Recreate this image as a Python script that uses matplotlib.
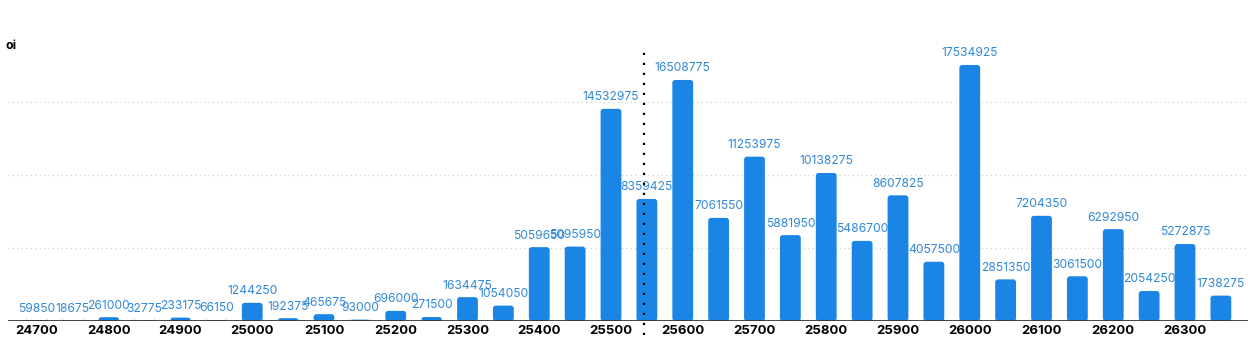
import matplotlib.pyplot as plt
from matplotlib.patches import FancyBboxPatch

plt.rcParams['font.family'] = ['Inter', 'DejaVu Sans']

# strikes en open interest
strikes = list(range(24700, 26400, 50))
oi = [59850, 18675, 261000, 32775, 233175, 66150, 1244250, 192375, 465675, 93000,
      696000, 271500, 1634475, 1054050, 5059650, 5095950, 14532975, 8359425,
      16508775, 7061550, 11253975, 5881950, 10138275, 5486700, 8607825, 4057500,
      17534925, 2851350, 7204350, 3061500, 6292950, 2054250, 5272875, 1738275]
tick_strikes = list(range(24700, 26400, 100))
spot = 25546

bar_kleur = '#1b85e6'
tekst_kleur = '#3389d6'

fig = plt.figure(figsize=(12.48, 3.42), dpi=100)
ax = fig.add_axes([8 / 1248, 21 / 342, 1240 / 1248, 292 / 342])
ax.set_xlim(24659.6, 26387.8)
ax.set_ylim(0, 20000000)

bars = ax.bar(strikes, oi, width=29, color=bar_kleur)

# afgeronde bovenkant: vervang de rechthoeken
fig.canvas.draw()
px = ax.transData.transform([(0, 0), (1, 1)])
aspect = (1 / (px[1][1] - px[0][1])) / (1 / (px[1][0] - px[0][0]))
for b in bars:
    x, y, w, h = b.get_x(), b.get_y(), b.get_width(), b.get_height()
    b.set_visible(False)
    p = FancyBboxPatch((x, y), w, h, boxstyle='round,pad=0,rounding_size=4',
                       mutation_aspect=aspect, facecolor=bar_kleur, edgecolor='none')
    ax.add_patch(p)

for s, v in zip(strikes, oi):
    ax.annotate(str(v), (s, v), xytext=(0, 4), textcoords='offset points',
                ha='center', va='bottom', fontsize=8.7, color=tekst_kleur)

# rasterlijnen
for g in [5000000, 10000000, 15000000]:
    ax.axhline(g, color='#c8c8c8', linestyle=(0, (1, 3)), linewidth=0.8, zorder=0)

ax.axhline(0, color='#333333', linewidth=2, zorder=5)
ax.plot([spot, spot], [-0.048, 0.928], transform=ax.get_xaxis_transform(),
        color='black', linestyle=(0, (1, 3.5)), linewidth=1.6, clip_on=False, zorder=6)

ax.set_xticks(tick_strikes)
ax.set_xticklabels([str(t) for t in tick_strikes], fontsize=9.5, fontweight='bold')
ax.tick_params(axis='x', length=0, pad=3)
ax.set_yticks([])
for sp in ax.spines.values():
    sp.set_visible(False)

fig.text(5 / 1248, 1 - 46 / 342, 'oi', fontsize=9, fontweight='bold', va='center')

fig.savefig('out.png', dpi=100)
